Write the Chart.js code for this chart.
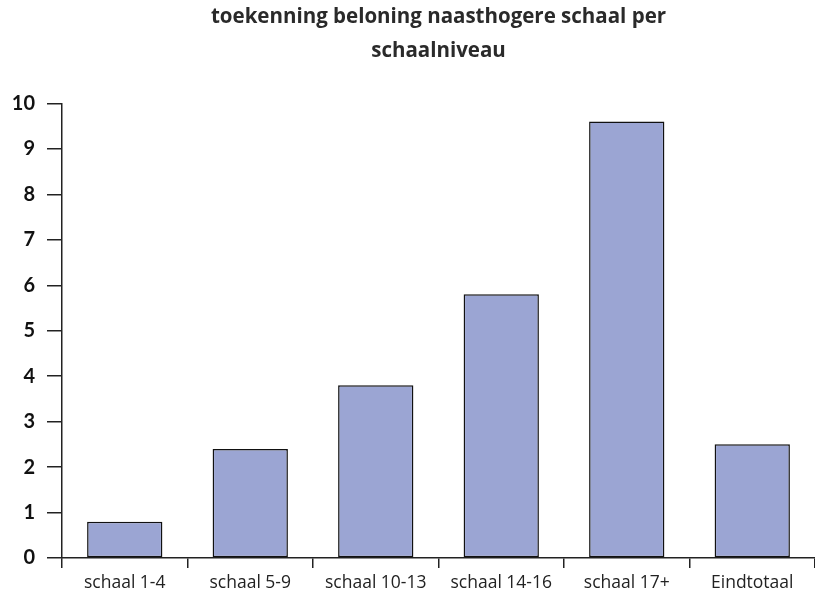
<!DOCTYPE html>
<html>
<head>
<meta charset="utf-8">
<script src="https://cdn.jsdelivr.net/npm/chart.js@4"></script>
<style>
  html, body { margin: 0; padding: 0; background: #fff; }
  .chart { width: 815px; height: 598px; }
</style>
</head>
<body>
<div class="chart"><canvas id="chart"></canvas></div>
<script>
const categories = ['schaal 1-4', 'schaal 5-9', 'schaal 10-13', 'schaal 14-16', 'schaal 17+', 'Eindtotaal']
const values = [0.8, 2.4, 3.8, 5.8, 9.6, 2.5]
const titleLines = ['toekenning beloning naasthogere schaal per', 'schaalniveau']
const yMin = 0
const yMax = 10

const ctx = document.getElementById('chart').getContext('2d')

new Chart(ctx, {
  type: 'bar',
  data: {
    labels: categories,
    datasets: [{
      data: values,
      backgroundColor: '#9ba5d3',
      borderColor: '#111',
      borderWidth: 1.5,
      borderSkipped: false,
      barPercentage: 0.6,
      categoryPercentage: 1
    }]
  },
  options: {
    responsive: true,
    maintainAspectRatio: false,
    animation: false,
    layout: { padding: { left: 0, right: 0, top: 0, bottom: 0 } },
    plugins: {
      legend: { display: false },
      tooltip: { enabled: false },
      title: {
        display: true,
        text: titleLines,
        fullSize: false,
        color: '#2a2a2a',
        font: { family: 'Open Sans', size: 20.5, weight: 'bold', lineHeight: 1.62 },
        padding: { top: 1, bottom: 36 }
      }
    },
    scales: {
      x: {
        afterFit: (scale) => { scale.height = 40 },
        grid: {
          offset: true,
          drawOnChartArea: false,
          tickLength: 10,
          color: '#222',
          lineWidth: 1.5
        },
        border: { color: '#222', width: 1.5 },
        ticks: {
          color: '#222',
          padding: 5,
          font: { family: 'Open Sans', size: 17.5 }
        }
      },
      y: {
        min: yMin,
        max: yMax,
        afterFit: (scale) => { scale.width = 62 },
        grid: {
          drawOnChartArea: false,
          tickLength: 15,
          color: '#222',
          lineWidth: 1.5
        },
        border: { color: '#222', width: 1.5 },
        ticks: {
          stepSize: 1,
          color: '#111',
          padding: 12,
          font: { family: 'Lato', size: 20, weight: 'bold' }
        }
      }
    }
  }
})
</script>
</body>
</html>
